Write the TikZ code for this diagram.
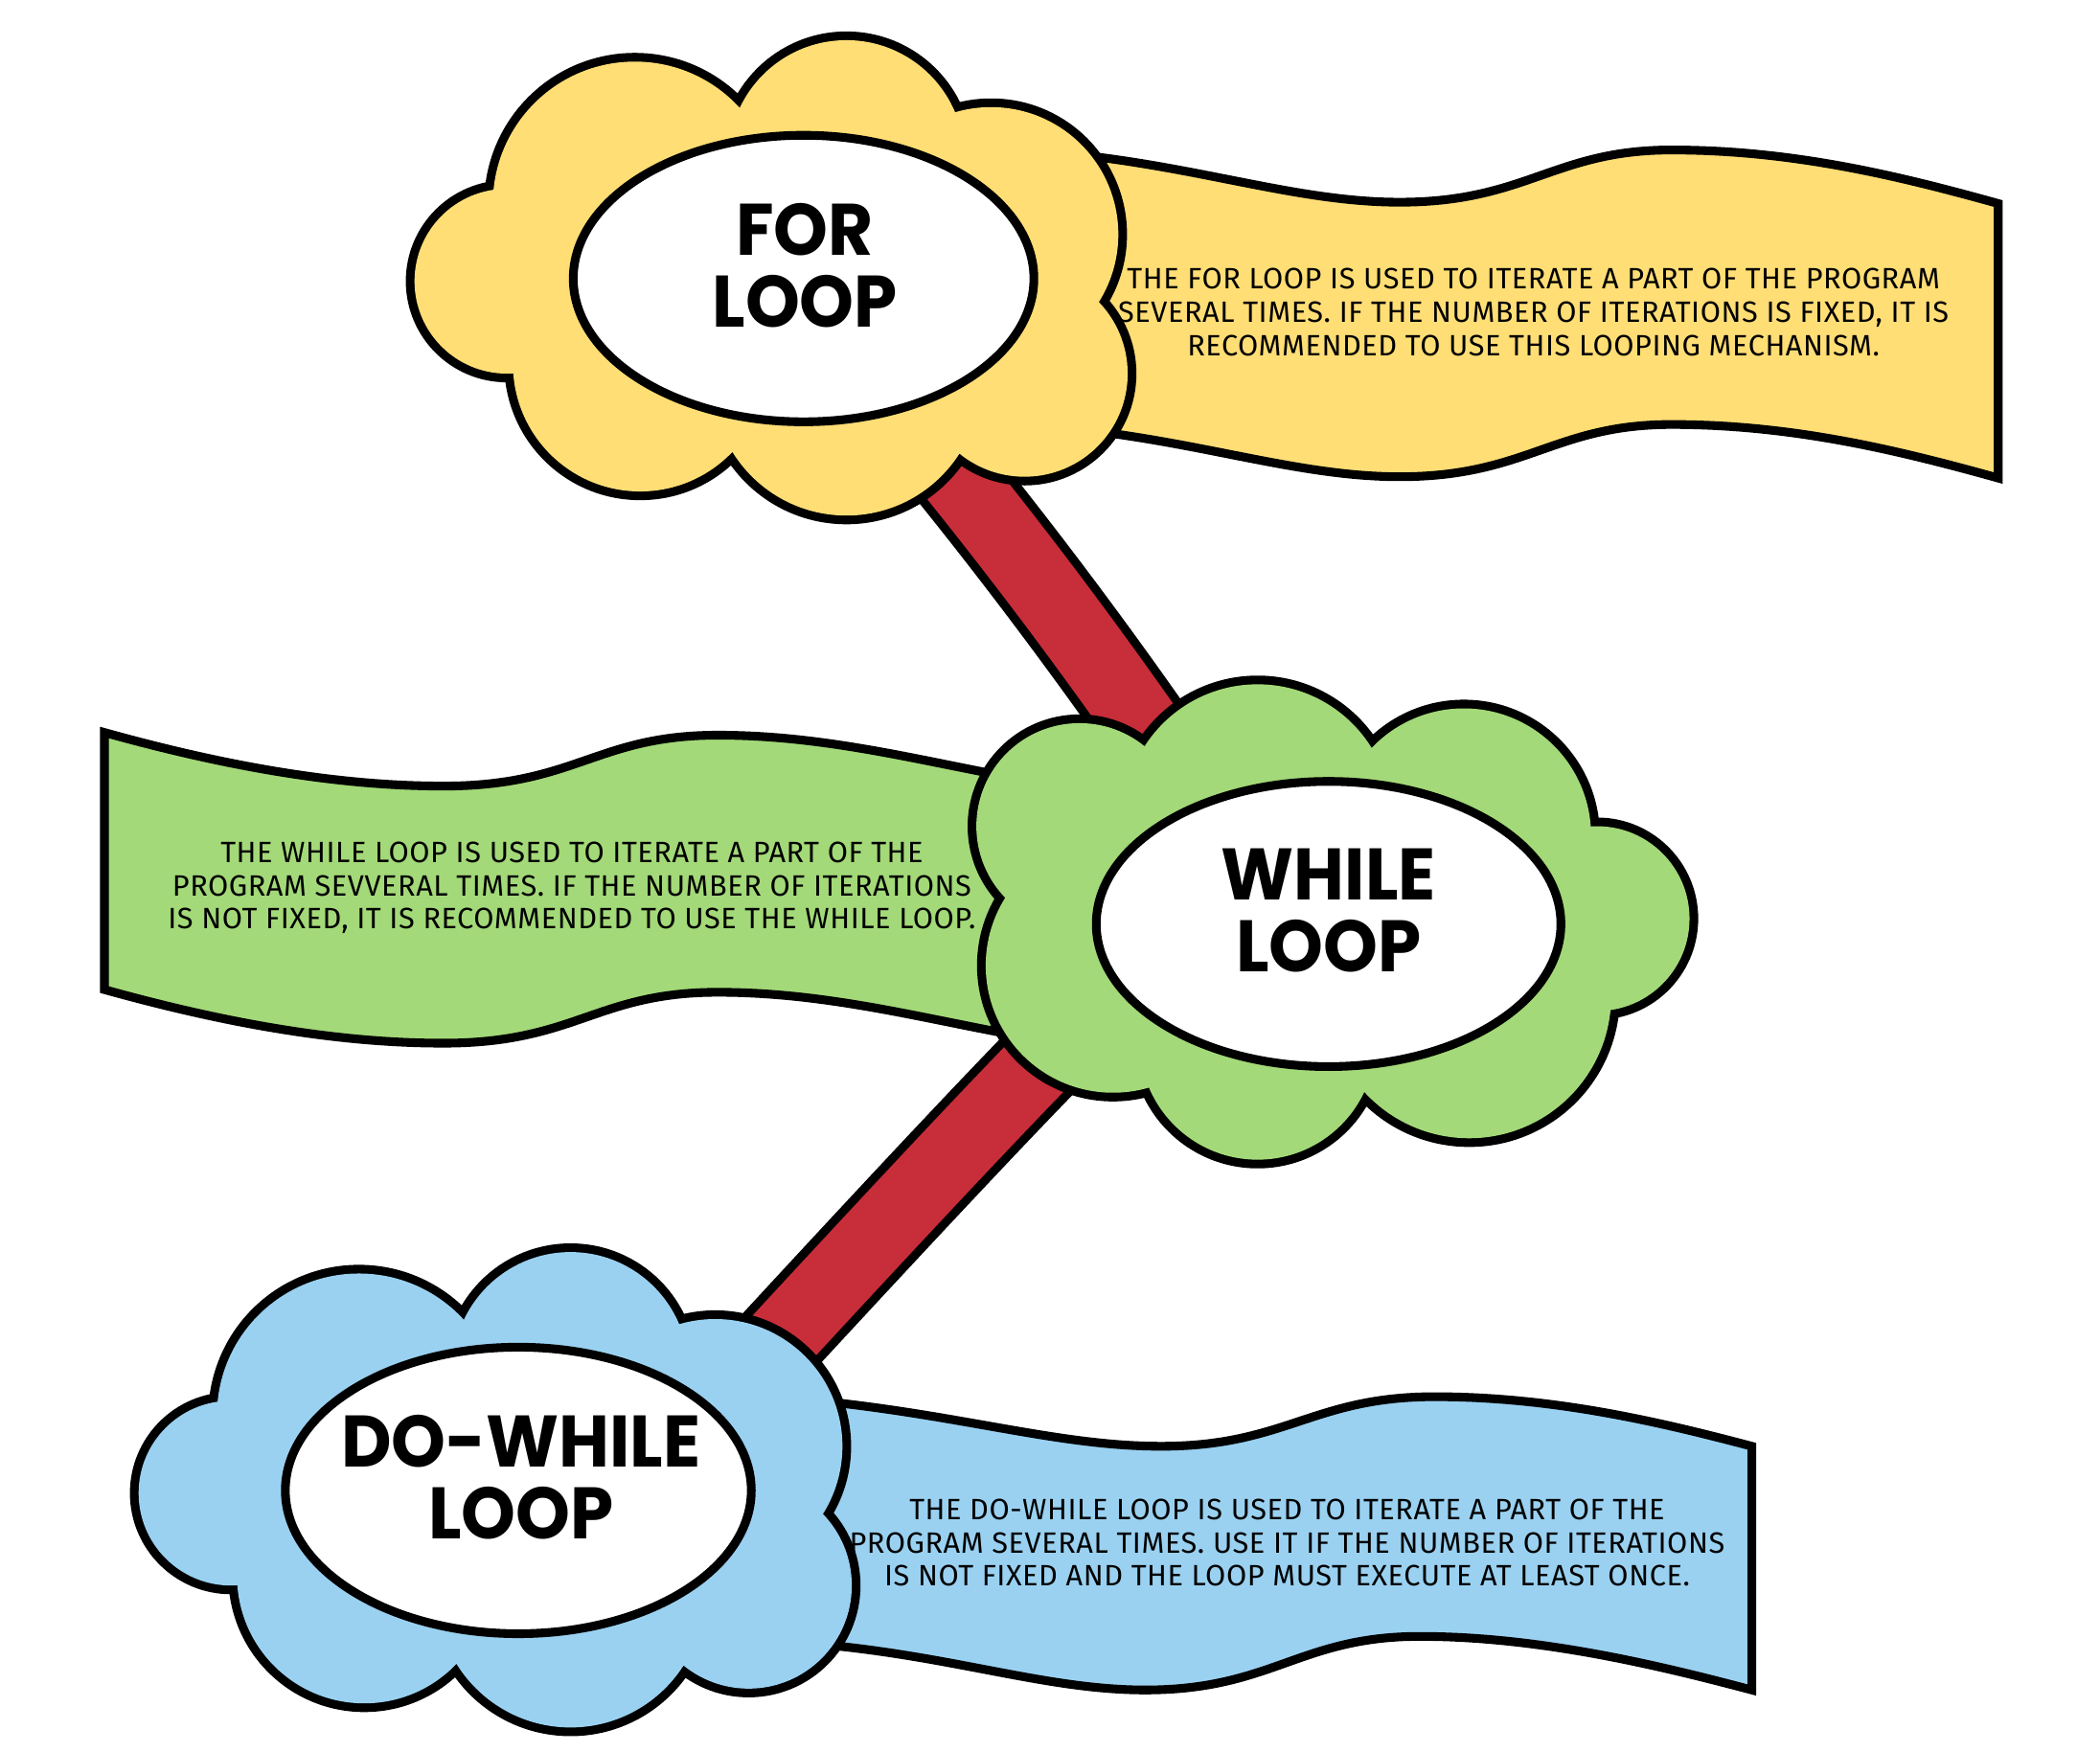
\documentclass[tikz,border=0pt]{standalone}
\usepackage{fontspec}
\usetikzlibrary{shapes.geometric}
\newfontfamily\titlefont{Poppins}[FakeStretch=0.95]
\newfontfamily\bodyfont{Fira Sans}[LetterSpace=1.8]
\definecolor{cyel}{RGB}{255,222,117}
\definecolor{cgrn}{RGB}{163,217,120}
\definecolor{cblu}{RGB}{154,209,241}
\definecolor{cred}{RGB}{200,45,58}
\newcommand\puffcirc{(-102,-57) circle[radius=106] (56,-91) circle[radius=88] (164,-34) circle[radius=95] (189,70) circle[radius=77] (56,76) circle[radius=100] (-98,63) circle[radius=95] (-197.5,1) circle[radius=69]}
\newcommand\puffcore{(-102,-57) -- (56,-91) -- (164,-34) -- (189,70) -- (56,76) -- (-98,63) -- (-197.5,1) -- cycle}
\newcommand\drawpuff[3]{\begin{scope}[shift={#1},rotate=#2]
 \draw[line width=0.26cm] \puffcirc;
 \fill[#3] \puffcirc;
 \fill[#3] \puffcore;
\end{scope}}
\begin{document}
\begin{tikzpicture}[x=0.02cm, y=-0.02cm,
  outl/.style={line width=0.13cm, draw=black, line join=miter},
  bandout/.style={line width=1.36cm, draw=black},
  bandin/.style={line width=1.1cm, draw=cred},
  ovalnode/.style={ellipse, draw=black, line width=0.13cm, fill=white, inner sep=0pt},
  titletext/.style={font=\titlefont\bfseries\fontsize{31}{30.5}\selectfont, align=center, inner sep=0pt},
  bodytext/.style={font=\bodyfont\fontsize{12.5}{14.2}\selectfont, align=center, inner sep=0pt}]
\fill[white] (0,0) rectangle (1568,1308);
\useasboundingbox (0,0) rectangle (1568,1308);
% banners
\draw[outl, fill=cyel] (760,112) .. controls (880,118) and (960,151) .. (1045,151) .. controls (1140,151) and (1160,112) .. (1248,112) .. controls (1340,112) and (1420,132) .. (1492,152) -- (1492,357) .. controls (1420,337) and (1340,317) .. (1248,317) .. controls (1160,317) and (1140,356) .. (1045,356) .. controls (960,356) and (880,323) .. (760,317) -- cycle;
\draw[outl, fill=cgrn] (78,547) .. controls (150,567) and (240,587) .. (331,587) .. controls (430,587) and (445,549) .. (536,549) .. controls (630,549) and (710,575) .. (800,588) -- (800,780) .. controls (710,767) and (630,741) .. (536,741) .. controls (445,741) and (430,779) .. (331,779) .. controls (240,779) and (150,759) .. (78,739) -- cycle;
\draw[outl, fill=cblu] (560,1042) .. controls (700,1050) and (780,1080) .. (867,1080) .. controls (960,1080) and (980,1043) .. (1071,1043) .. controls (1160,1043) and (1240,1062) .. (1308,1080) -- (1308,1262) .. controls (1240,1244) and (1150,1222) .. (1060,1222) .. controls (970,1222) and (950,1262) .. (855,1262) .. controls (770,1262) and (690,1228) .. (560,1225) -- cycle;
% bands
\coordinate (b1a) at (693,330);
\coordinate (b1b) at (870,565);
\coordinate (b2a) at (800,770);
\coordinate (b2b) at (560,1025);
\draw[bandout] (b1a) .. controls (757,408) and (816,487) .. (b1b);
\draw[bandin] (b1a) .. controls (757,408) and (816,487) .. (b1b);
\draw[bandout] (b2a) .. controls (740,830) and (620,960) .. (b2b);
\draw[bandin] (b2a) .. controls (740,830) and (620,960) .. (b2b);
% clouds
\drawpuff{(576,209)}{0}{cyel}
\drawpuff{(995,687)}{180}{cgrn}
\drawpuff{(370,1114)}{0}{cblu}
% ovals
\node[ovalnode, minimum width=6.88cm, minimum height=4.28cm] (forov) at (600,208) {};
\node[ovalnode, minimum width=6.94cm, minimum height=4.26cm] (whileov) at (992,690) {};
\node[ovalnode, minimum width=6.96cm, minimum height=4.28cm] (doov) at (387,1113) {};
% titles
\node[titletext] (fort) at (601,198) {FOR\\LOOP};
\node[titletext] (whilet) at (992,680) {WHILE\\LOOP};
\node[titletext] (dot) at (389,1103) {DO-WHILE\\LOOP};
% descriptions
\node[bodytext] (ford) at (1145,233) {THE FOR LOOP IS USED TO ITERATE A PART OF THE PROGRAM\\SEVERAL TIMES. IF THE NUMBER OF ITERATIONS IS FIXED, IT IS\\RECOMMENDED TO USE THIS LOOPING MECHANISM.};
\node[bodytext] (whiled) at (427,663) {THE WHILE LOOP IS USED TO ITERATE A PART OF THE\\PROGRAM SEVVERAL TIMES. IF THE NUMBER OF ITERATIONS\\IS NOT FIXED, IT IS RECOMMENDED TO USE THE WHILE LOOP.};
\node[bodytext] (dod) at (961,1152) {THE DO-WHILE LOOP IS USED TO ITERATE A PART OF THE\\PROGRAM SEVERAL TIMES. USE IT IF THE NUMBER OF ITERATIONS\\IS NOT FIXED AND THE LOOP MUST EXECUTE AT LEAST ONCE.};
\end{tikzpicture}
\end{document}
